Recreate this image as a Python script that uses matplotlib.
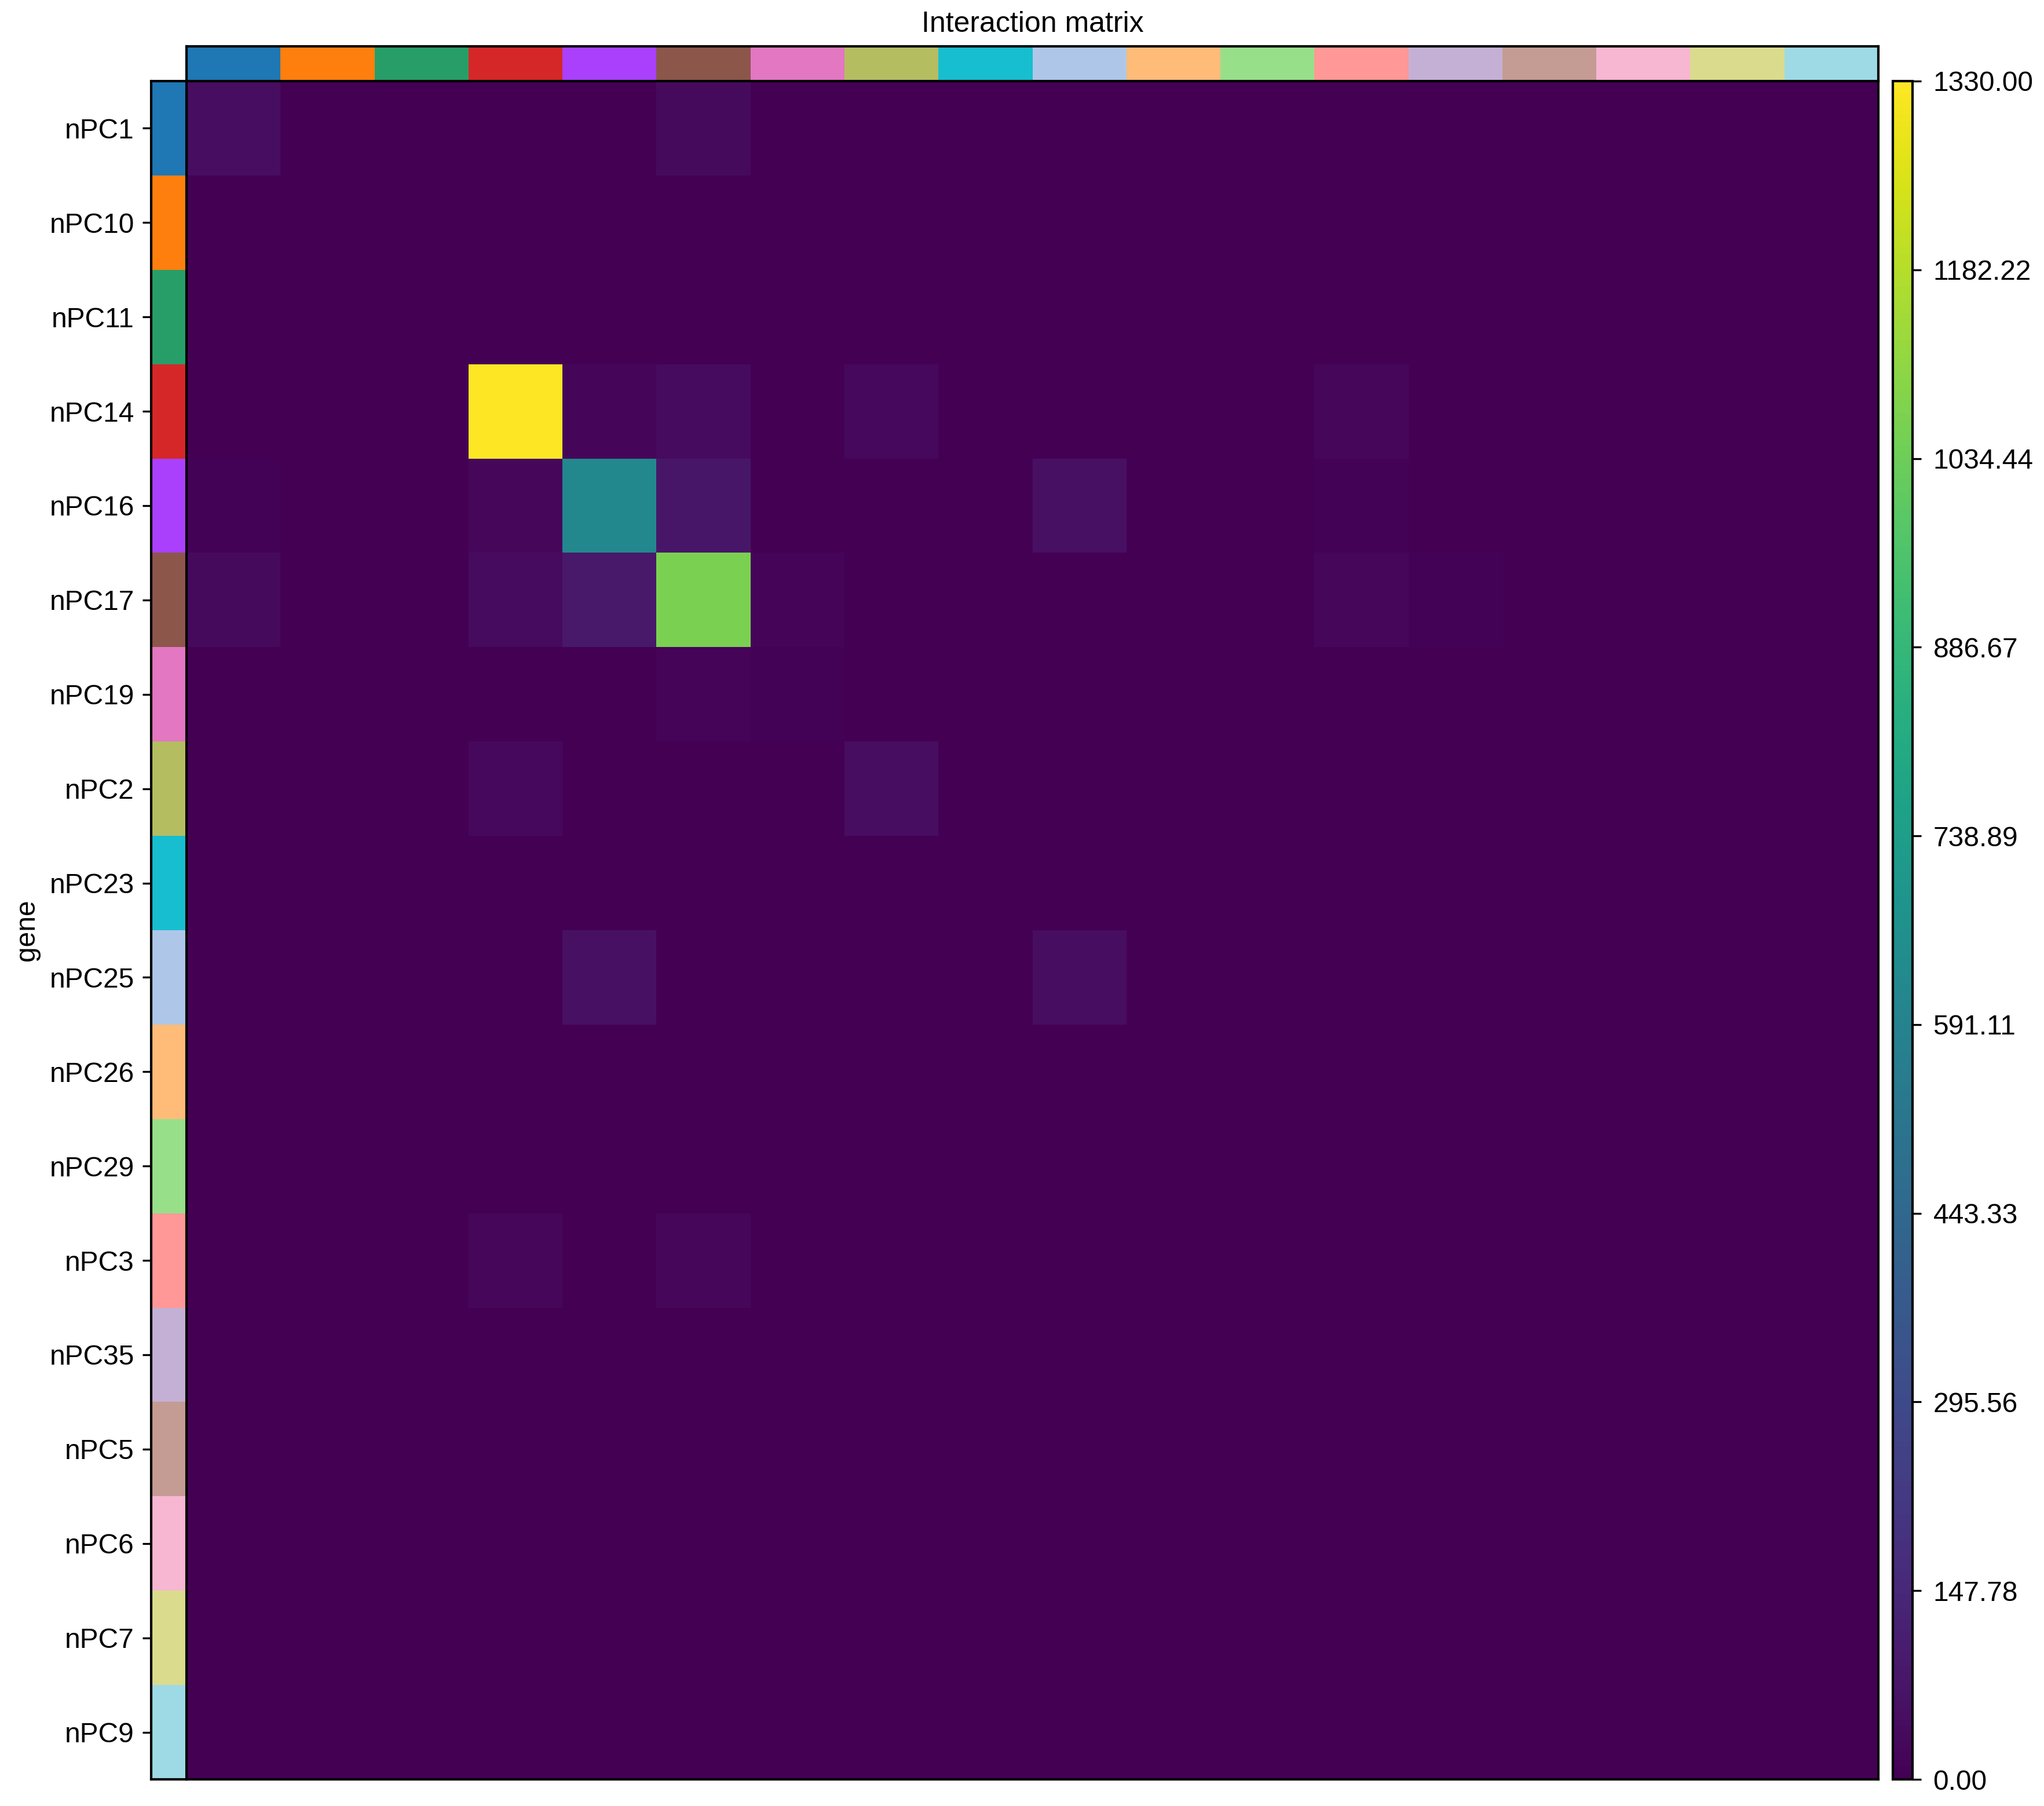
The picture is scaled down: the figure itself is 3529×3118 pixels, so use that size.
import numpy as np
import matplotlib
matplotlib.use("Agg")
import matplotlib.pyplot as plt
from matplotlib.colors import ListedColormap

plt.rcParams['font.family'] = ['Liberation Sans', 'DejaVu Sans']

genes = ['nPC1', 'nPC10', 'nPC11', 'nPC14', 'nPC16', 'nPC17', 'nPC19', 'nPC2',
         'nPC23', 'nPC25', 'nPC26', 'nPC29', 'nPC3', 'nPC35', 'nPC5', 'nPC6',
         'nPC7', 'nPC9']
gene_colors = ['#1f77b4', '#ff7f0e', '#279e68', '#d62728', '#aa40fc', '#8c564b',
               '#e377c2', '#b5bd61', '#17becf', '#aec7e8', '#ffbb78', '#98df8a',
               '#ff9896', '#c5b0d5', '#c49c94', '#f7b6d2', '#dbdb8d', '#9edae5']

# counts (rows = gene, cols = gene)
row_nPC1 =  [45, 0, 0, 0, 5, 35, 0, 0, 0, 0, 0, 0, 0, 0, 0, 0, 0, 0]
row_nPC14 = [0, 0, 0, 1330, 20, 38, 0, 30, 0, 0, 0, 0, 25, 0, 0, 0, 0, 0]
row_nPC16 = [8, 0, 0, 25, 620, 75, 0, 0, 0, 55, 0, 0, 8, 0, 0, 0, 0, 0]
row_nPC17 = [32, 0, 0, 38, 85, 1065, 12, 0, 0, 0, 0, 0, 25, 8, 0, 0, 0, 0]
row_nPC19 = [0, 0, 0, 0, 0, 15, 6, 0, 0, 0, 0, 0, 0, 0, 0, 0, 0, 0]
row_nPC2 =  [0, 0, 0, 30, 0, 0, 0, 45, 0, 0, 0, 0, 0, 0, 0, 0, 0, 0]
row_nPC25 = [0, 0, 0, 0, 55, 0, 0, 0, 0, 45, 0, 0, 0, 0, 0, 0, 0, 0]
row_nPC3 =  [0, 0, 0, 25, 0, 25, 0, 0, 0, 0, 0, 0, 0, 0, 0, 0, 0, 0]
row_nPC35 = [0, 0, 0, 0, 0, 5, 0, 0, 0, 0, 0, 0, 0, 0, 0, 0, 0, 0]
zero_row = [0] * 18

matrix = np.array([
    row_nPC1, zero_row, zero_row, row_nPC14, row_nPC16, row_nPC17,
    row_nPC19, row_nPC2, zero_row, row_nPC25, zero_row, zero_row,
    row_nPC3, row_nPC35, zero_row, zero_row, zero_row, zero_row,
], dtype=float)

vmax = 1330.0
n = len(genes)

W, H = 3529, 3118
fig = plt.figure(figsize=(W / 300, H / 300), dpi=300)

def frac(x0, y0, x1, y1):
    return [x0 / W, 1 - y1 / H, (x1 - x0) / W, (y1 - y0) / H]

ax = fig.add_axes(frac(322, 140, 3243, 3072))
ax_top = fig.add_axes(frac(322, 80, 3243, 140))
ax_left = fig.add_axes(frac(261, 140, 322, 3072))
cax = fig.add_axes(frac(3268, 140, 3302, 3072))

mesh = ax.pcolormesh(matrix, cmap='viridis', vmin=0, vmax=vmax)
ax.set_xlim(0, n)
ax.set_ylim(n, 0)
ax.set_xticks([])
ax.set_yticks([])

cmap_cat = ListedColormap(gene_colors)
idx = np.arange(n)
ax_top.pcolormesh(idx[np.newaxis, :], cmap=cmap_cat, vmin=-0.5, vmax=n - 0.5)
ax_top.set_xlim(0, n)
ax_top.set_xticks([])
ax_top.set_yticks([])
ax_top.set_title('Interaction matrix', fontsize=12, pad=6)

ax_left.pcolormesh(idx[:, np.newaxis], cmap=cmap_cat, vmin=-0.5, vmax=n - 0.5)
ax_left.set_ylim(n, 0)
ax_left.set_xticks([])
ax_left.set_yticks(idx + 0.5)
ax_left.set_yticklabels(genes, fontsize=11.5)
ax_left.set_ylabel('gene', fontsize=11.5)

for a in (ax, ax_top, ax_left):
    for s in a.spines.values():
        s.set_linewidth(1.0)

cb = fig.colorbar(mesh, cax=cax)
cb.set_ticks(np.linspace(0, vmax, 10))
cb.set_ticklabels(['%.2f' % t for t in np.linspace(0, vmax, 10)])
cb.ax.tick_params(labelsize=11.5, pad=5)
cb.outline.set_linewidth(1.0)

fig.savefig('out.png', dpi=300)
